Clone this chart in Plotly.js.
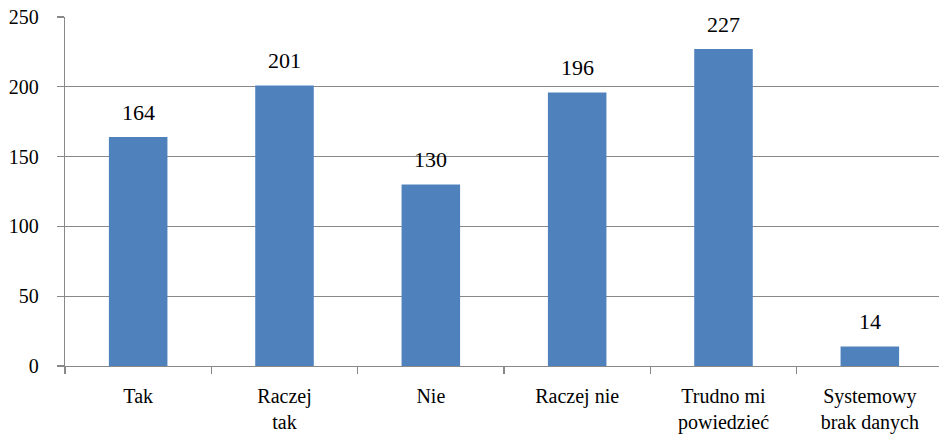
<!DOCTYPE html>
<html><head><meta charset="utf-8">
<script src="https://cdn.plot.ly/plotly-3.0.1.min.js"></script>
<style>html,body{margin:0;background:#fff;overflow:hidden}#chart{width:943px;height:436px}</style>
</head><body><div id="chart"></div>
<script>
const categories = ["Tak", "Raczej<br>tak", "Nie", "Raczej nie", "Trudno mi<br>powiedzieć", "Systemowy<br>brak danych"];
const values = [164, 201, 130, 196, 227, 14];
const yTicks = [0, 50, 100, 150, 200, 250];

const font = "Liberation Serif, Times New Roman, serif";
Plotly.newPlot("chart", [{
  type: "bar",
  x: categories,
  y: values,
  width: 0.4,
  marker: {color: "#4F81BD"},
  hoverinfo: "none"
}], {
  width: 943, height: 436,
  margin: {l: 65, r: 0, t: 17, b: 70},
  paper_bgcolor: "#fff", plot_bgcolor: "#fff",
  showlegend: false,
  font: {family: font, size: 20, color: "#000"},
  annotations: categories.map((c, i) => ({
    x: c, y: values[i], xref: "x", yref: "y",
    text: String(values[i]), showarrow: false,
    yanchor: "middle", yshift: 25,
    font: {family: font, size: 22, color: "#000"}
  })),
  xaxis: {
    type: "category",
    tickson: "boundaries",
    ticks: "outside", ticklen: 7, tickcolor: "#888", tickwidth: 1.3,
    showline: true, linecolor: "#888", linewidth: 1.3,
    showgrid: false,
    tickfont: {family: font, size: 20, color: "#000"},
    ticklabelstandoff: 12
  },
  yaxis: {
    range: [0, 250],
    tickvals: yTicks,
    ticks: "outside", ticklen: 7, tickcolor: "#888", tickwidth: 1.3,
    showline: true, linecolor: "#888", linewidth: 1.3,
    showgrid: true, gridcolor: "#888", gridwidth: 1.3,
    zeroline: false,
    tickfont: {family: font, size: 20, color: "#000"},
    ticklabelstandoff: 14
  }
}, {staticPlot: true});
</script></body></html>
